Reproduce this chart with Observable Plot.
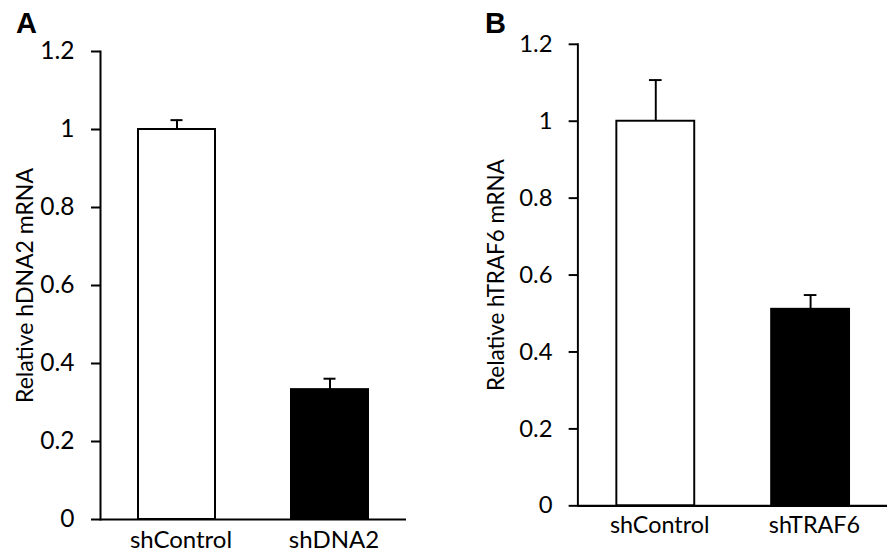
<!DOCTYPE html>
<html>
<head>
<meta charset="utf-8">
<script src="https://cdn.jsdelivr.net/npm/d3@7"></script>
<script src="https://cdn.jsdelivr.net/npm/@observablehq/plot@0.6"></script>
<style>
  html, body { margin: 0; padding: 0; background: #fff; overflow: hidden; }
  #wrap { position: relative; width: 888px; height: 557px; overflow: hidden; }
  .panel { position: absolute; top: 0; }
  .plabel { position: absolute; font-family: "Liberation Sans", Arial, sans-serif; font-weight: bold; font-size: 29px; color: #000; line-height: 1; }
</style>
</head>
<body>
<div id="wrap">
  <div class="panel" id="pa" style="left:0px"></div>
  <div class="panel" id="pb" style="left:444px"></div>
  <div class="plabel" style="left:16px; top:9px">A</div>
  <div class="plabel" style="left:485px; top:9px">B</div>
</div>
<script>
// Panel A data
const categoriesA = ["shControl", "shDNA2"];
const valuesA = [1.0, 0.333];
const errorsA = [0.024, 0.028];
const yLabelA = "Relative hDNA2 mRNA";

// Panel B data
const categoriesB = ["shControl", "shTRAF6"];
const valuesB = [1.0, 0.511];
const errorsB = [0.107, 0.037];
const yLabelB = "Relative hTRAF6 mRNA";

const yTicks = [0, 0.2, 0.4, 0.6, 0.8, 1, 1.2];
const barFills = ["white", "black"];

const FONT = "Lato, 'Open Sans', sans-serif";

function panel({categories, values, errors, yLabel, width, marginLeft, marginRight, marginTop, labelOffset, capInset}) {
  const data = categories.map((c, i) => ({cat: c, v: values[i], e: errors[i], fill: barFills[i]}));
  return Plot.plot({
    width,
    height: 557,
    marginLeft,
    marginRight,
    marginTop,
    marginBottom: 38,
    style: {fontFamily: FONT, fontSize: "24px", color: "#000", background: "transparent"},
    x: {domain: categories, paddingInner: 0.5, paddingOuter: 0.25},
    y: {domain: [0, 1.2]},
    marks: [
      Plot.ruleX(data, {x: "cat", y1: "v", y2: d => d.v + d.e, stroke: "black", strokeWidth: 2}),
      Plot.tickY(data, {x: "cat", y: d => d.v + d.e, stroke: "black", strokeWidth: 2, insetLeft: capInset, insetRight: capInset}),
      Plot.barY(data, {x: "cat", y: "v", fill: "fill", stroke: "black", strokeWidth: 2}),
      Plot.frame({anchor: "left", stroke: "black", strokeWidth: 2}),
      Plot.ruleY([0], {stroke: "black", strokeWidth: 2.2}),
      Plot.axisY({
        ticks: yTicks,
        tickFormat: d => String(d),
        tickSize: 9,
        tickPadding: 17,
        strokeWidth: 2,
        fontSize: 24.5,
        label: null
      }),
      Plot.axisY({
        ticks: [],
        tickSize: 0,
        fontSize: 23,
        label: yLabel,
        labelAnchor: "center",
        labelArrow: "none",
        labelOffset
      }),
      Plot.axisX({tickSize: 0, tickPadding: 11, fontSize: 24, dx: 4, label: null})
    ]
  });
}

document.getElementById("pa").append(panel({
  categories: categoriesA, values: valuesA, errors: errorsA, yLabel: yLabelA,
  width: 444, marginLeft: 100, marginRight: 38, marginTop: 51, labelOffset: 84, capInset: 32.5
}));
document.getElementById("pb").append(panel({
  categories: categoriesB, values: valuesB, errors: errorsB, yLabel: yLabelB,
  width: 456, marginLeft: 137, marginRight: 1, marginTop: 45, labelOffset: 92, capInset: 33.5
}));
</script>
</body>
</html>
